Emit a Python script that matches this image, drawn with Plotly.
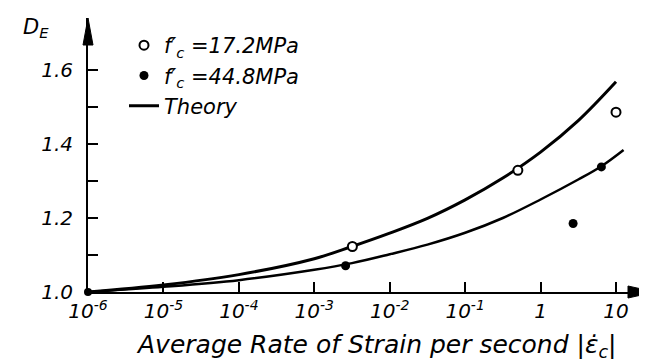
import plotly.graph_objects as go

# ---------------- data ----------------
# experimental points
rate_172 = [3.2e-3, 0.5, 10.0]
de_172 = [1.123, 1.329, 1.486]

rate_448 = [2.6e-3, 2.7, 6.4]
de_448 = [1.071, 1.185, 1.338]

# theory curves
theory_rate_upper = [1e-6, 1e-5, 1e-4, 1e-3, 3.16e-3, 1e-2, 3.16e-2, 1e-1, 3.16e-1, 1.0, 3.16, 10.0]
theory_de_upper = [1.0, 1.019, 1.047, 1.090, 1.123, 1.159, 1.199, 1.249, 1.308, 1.378, 1.463, 1.568]

theory_rate_lower = [1e-6, 1e-5, 1e-4, 1e-3, 3.16e-3, 1e-2, 3.16e-2, 1e-1, 3.16e-1, 1.0, 3.16, 6.4, 12.6]
theory_de_lower = [1.0, 1.014, 1.032, 1.060, 1.078, 1.102, 1.128, 1.160, 1.200, 1.250, 1.304, 1.340, 1.384]

origin_rate = [1e-6]
origin_de = [1.0]

x_tickvals = [1e-6, 1e-5, 1e-4, 1e-3, 1e-2, 1e-1, 1, 10]
x_ticktext = ["10<sup>-6</sup>", "10<sup>-5</sup>", "10<sup>-4</sup>", "10<sup>-3</sup>",
              "10<sup>-2</sup>", "10<sup>-1</sup>", "1", "10"]
y_tickvals = [1.0, 1.2, 1.4, 1.6]
y_ticktext = ["1.0", "1.2", "1.4", "1.6"]
y_minorvals = [1.1, 1.3, 1.5]

# ---------------- figure ----------------
FONT = "DejaVu Sans"
fig = go.Figure()

fig.add_trace(go.Scatter(
    x=theory_rate_upper, y=theory_de_upper, mode="lines",
    line=dict(color="black", width=3, shape="spline", smoothing=1.0),
    name="Theory", legendrank=3, cliponaxis=False))
fig.add_trace(go.Scatter(
    x=theory_rate_lower, y=theory_de_lower, mode="lines",
    line=dict(color="black", width=2.5, shape="spline", smoothing=1.0),
    showlegend=False, cliponaxis=False))
fig.add_trace(go.Scatter(
    x=origin_rate, y=origin_de, mode="markers",
    marker=dict(color="black", size=8), showlegend=False, cliponaxis=False))
fig.add_trace(go.Scatter(
    x=rate_172, y=de_172, mode="markers",
    marker=dict(symbol="circle", color="white", size=9, line=dict(color="black", width=2)),
    name="f′<sub>c</sub> =17.2MPa", legendrank=1, cliponaxis=False))
fig.add_trace(go.Scatter(
    x=rate_448, y=de_448, mode="markers",
    marker=dict(symbol="circle", color="black", size=9),
    name="f′<sub>c</sub> =44.8MPa", legendrank=2, cliponaxis=False))

W, H = 647, 363
L, R, T, B = 80, 0, 10, 79
pw, ph = W - L - R, H - T - B

fig.update_layout(
    width=W, height=H,
    margin=dict(l=L, r=R, t=T, b=B),
    paper_bgcolor="white", plot_bgcolor="white",
    font=dict(family=FONT, color="black", size=19, style="italic"),
    showlegend=True,
    legend=dict(x=(116 - L) / pw, y=(284 - 17) / ph, xanchor="left", yanchor="top",
                bgcolor="rgba(0,0,0,0)", font=dict(family=FONT, size=21, style="italic"),
                tracegroupgap=0),
    xaxis=dict(
        type="log", range=[-6, 1 + (W - 608) / 75.43],
        showline=True, linecolor="black", linewidth=2,
        showgrid=False, zeroline=False,
        ticks="inside", ticklen=10, tickwidth=2, tickcolor="black",
        tickvals=x_tickvals, ticktext=x_ticktext,
        tickfont=dict(family=FONT, size=20, style="italic"),
    ),
    yaxis=dict(
        range=[1.0, 1.0 + ph / 370.0],
        showline=True, linecolor="black", linewidth=2,
        showgrid=False, zeroline=False,
        ticks="inside", ticklen=10, tickwidth=2, tickcolor="black",
        tickvals=y_tickvals, ticktext=y_ticktext,
        ticklabelstandoff=9,
        minor=dict(tickvals=y_minorvals, ticks="inside", ticklen=10, tickwidth=2,
                   tickcolor="black", showgrid=False),
        tickfont=dict(family=FONT, size=20, style="italic"),
    ),
)

# axis arrowheads
fig.add_shape(type="path", xref="paper", yref="paper",
              path=f"M {-5/pw},{1-27/ph} L 0,1 L {5/pw},{1-27/ph} Z",
              fillcolor="black", line=dict(color="black", width=1))
fig.add_shape(type="path", xref="paper", yref="paper",
              path=f"M {1-27/pw},{-6/ph} L 1,0 L {1-27/pw},{6/ph} Z",
              fillcolor="black", line=dict(color="black", width=1))

# axis titles
fig.add_annotation(text="D<sub>E</sub>", xref="paper", yref="paper",
                   x=(13 - L) / pw, y=(284 - 20) / ph, xanchor="left", yanchor="middle",
                   showarrow=False, font=dict(family=FONT, size=21, style="italic"))
fig.add_annotation(text="Average Rate of Strain per second |ε̇<sub>c</sub>|",
                   xref="paper", yref="paper",
                   x=(368 - L) / pw, y=(284 - 338) / ph, xanchor="center", yanchor="middle",
                   showarrow=False, font=dict(family=FONT, size=25, style="italic"))

fig.write_html("out.html")
